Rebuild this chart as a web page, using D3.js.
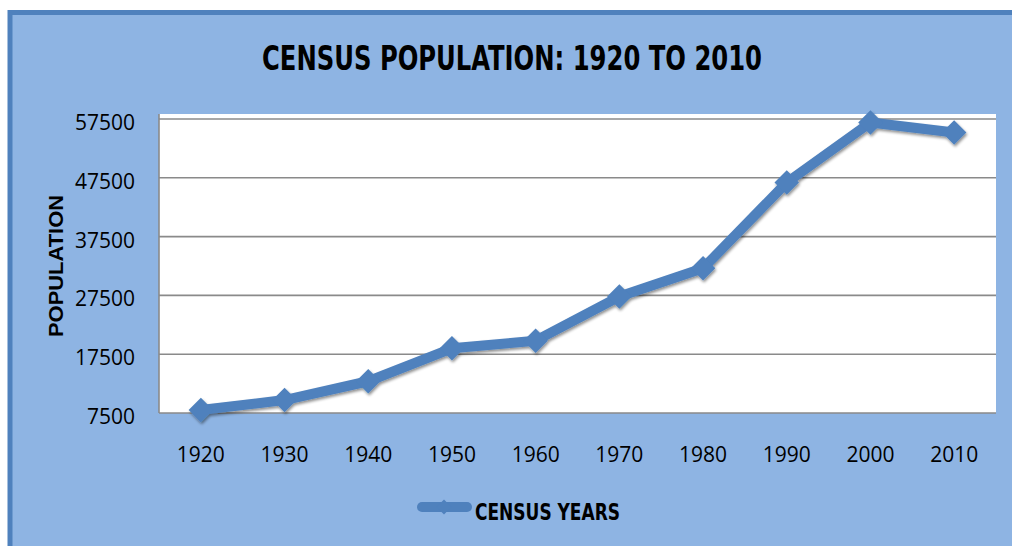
<!DOCTYPE html>
<html>
<head>
<meta charset="utf-8">
<script src="https://cdn.jsdelivr.net/npm/d3@7"></script>
<style>
    html, body { margin: 0; padding: 0; background: #fff; }
    svg { display: block; }
    .tick-label { font-family: "Open Sans", "Noto Sans", sans-serif; font-size: 21px; fill: #000; }
    .bold-narrow { font-family: "Liberation Sans Narrow", "DejaVu Sans Condensed", sans-serif; font-weight: bold; fill: #000; }
</style>
</head>
<body>
<div id="chart"></div>
<script>
// data
var years = ['1920', '1930', '1940', '1950', '1960', '1970', '1980', '1990', '2000', '2010'];
var population = [8000, 9700, 12900, 18500, 19800, 27300, 32100, 46700, 56900, 55200];
var yTicks = [7500, 17500, 27500, 37500, 47500, 57500];

var chartTitle = 'CENSUS POPULATION: 1920 TO 2010';
var yTitle = 'POPULATION';
var seriesName = 'CENSUS YEARS';

function main(domSelector) {

    var width = 1012;
    var height = 546;
    var plot = {left: 159, right: 996, top: 114, bottom: 413};
    var blue = '#4f81bd';

    var svg = d3.select(domSelector).append('svg')
        .attr('width', width)
        .attr('height', height);

    var defs = svg.append('defs');
    var shadow = defs.append('filter').attr('id', 'shadow')
        .attr('x', '-50%').attr('y', '-50%').attr('width', '200%').attr('height', '200%');
    shadow.append('feGaussianBlur').attr('in', 'SourceAlpha').attr('stdDeviation', 1.6);
    shadow.append('feOffset').attr('dx', 1).attr('dy', 2).attr('result', 'blur');
    shadow.append('feComponentTransfer').append('feFuncA').attr('type', 'linear').attr('slope', 0.45);
    var merge = shadow.append('feMerge');
    merge.append('feMergeNode');
    merge.append('feMergeNode').attr('in', 'SourceGraphic');

    // chart frame
    svg.append('rect')
        .attr('x', 10).attr('y', 12.5)
        .attr('width', width + 10).attr('height', height)
        .attr('fill', '#8eb4e3')
        .attr('stroke', blue)
        .attr('stroke-width', 5);

    var xScale = d3.scalePoint().domain(years).range([plot.left, plot.right]).padding(0.5);
    var yScale = d3.scaleLinear().domain([7500, 58350]).range([plot.bottom, plot.top]);

    // plot area
    svg.append('rect')
        .attr('x', plot.left).attr('y', plot.top)
        .attr('width', plot.right - plot.left).attr('height', plot.bottom - plot.top)
        .attr('fill', '#fff');

    svg.append('g')
        .selectAll('line')
        .data(yTicks)
        .enter()
        .append('line')
        .attr('x1', plot.left).attr('x2', plot.right)
        .attr('y1', function (d) { return yScale(d); })
        .attr('y2', function (d) { return yScale(d); })
        .attr('stroke', '#8a8a8a')
        .attr('stroke-width', 1.6);

    svg.append('line')
        .attr('x1', plot.left).attr('x2', plot.left)
        .attr('y1', plot.top).attr('y2', plot.bottom)
        .attr('stroke', '#8a8a8a')
        .attr('stroke-width', 1.6);

    // tick labels
    svg.append('g')
        .selectAll('text')
        .data(yTicks)
        .enter()
        .append('text')
        .attr('class', 'tick-label')
        .attr('x', 135)
        .attr('y', function (d) { return yScale(d) + 11; })
        .attr('text-anchor', 'end')
        .text(function (d) { return d; });

    svg.append('g')
        .selectAll('text')
        .data(years)
        .enter()
        .append('text')
        .attr('class', 'tick-label')
        .attr('x', function (d) { return xScale(d); })
        .attr('y', 462)
        .attr('text-anchor', 'middle')
        .text(function (d) { return d; });

    // titles
    svg.append('text')
        .attr('class', 'bold-narrow')
        .attr('x', 512).attr('y', 70)
        .attr('text-anchor', 'middle')
        .attr('font-size', 34)
        .attr('textLength', 500)
        .attr('lengthAdjust', 'spacingAndGlyphs')
        .text(chartTitle);

    svg.append('text')
        .attr('transform', 'translate(63,266) rotate(-90)')
        .attr('text-anchor', 'middle')
        .attr('font-family', '"Liberation Sans", Arial, sans-serif')
        .attr('font-weight', 'bold')
        .attr('font-size', 20)
        .attr('textLength', 142)
        .attr('lengthAdjust', 'spacingAndGlyphs')
        .text(yTitle);

    // series
    var line = d3.line()
        .x(function (d, i) { return xScale(years[i]); })
        .y(function (d) { return yScale(d); });

    var series = svg.append('g').attr('filter', 'url(#shadow)');

    series.append('path')
        .datum(population)
        .attr('d', line)
        .attr('fill', 'none')
        .attr('stroke', blue)
        .attr('stroke-width', 10)
        .attr('stroke-linejoin', 'round');

    var diamond = d3.symbol().type(d3.symbolSquare).size(300);

    series.selectAll('path.marker')
        .data(population)
        .enter()
        .append('path')
        .attr('class', 'marker')
        .attr('d', diamond)
        .attr('transform', function (d, i) {
            return 'translate(' + xScale(years[i]) + ',' + yScale(d) + ') rotate(45)';
        })
        .attr('fill', blue);

    // legend
    var legend = svg.append('g');
    legend.append('line')
        .attr('x1', 422).attr('x2', 467)
        .attr('y1', 507).attr('y2', 507)
        .attr('stroke', blue)
        .attr('stroke-width', 10)
        .attr('stroke-linecap', 'round');
    legend.append('path')
        .attr('d', d3.symbol().type(d3.symbolSquare).size(110))
        .attr('transform', 'translate(444,507) rotate(45)')
        .attr('fill', blue);
    legend.append('text')
        .attr('class', 'bold-narrow')
        .attr('x', 475).attr('y', 520)
        .attr('font-size', 23)
        .attr('textLength', 145)
        .attr('lengthAdjust', 'spacingAndGlyphs')
        .text(seriesName);
}

main('#chart');
</script>
</body>
</html>
